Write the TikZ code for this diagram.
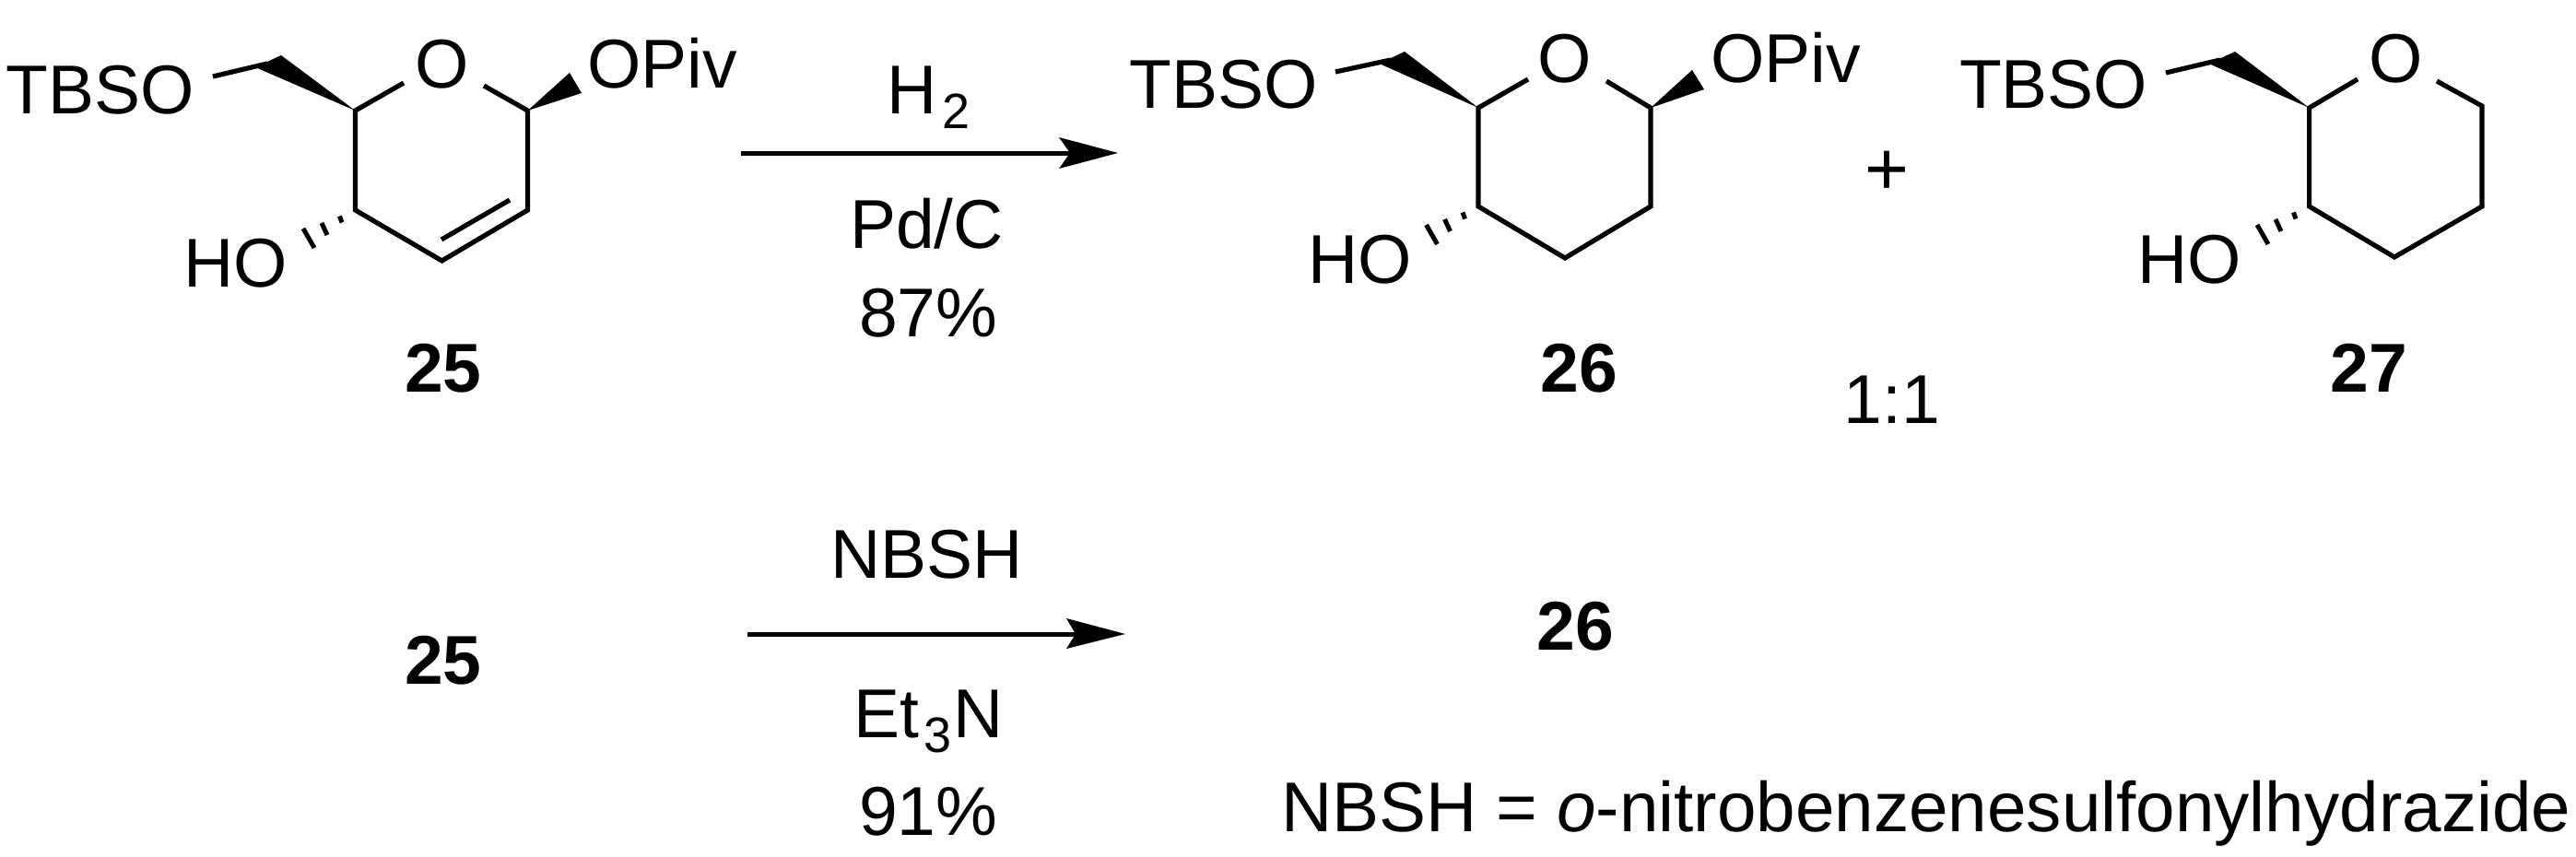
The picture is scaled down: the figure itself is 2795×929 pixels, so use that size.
\documentclass[tikz,border=0pt]{standalone}
\usepackage{fontspec}
\setmainfont{Liberation Sans}
\newcommand{\subtx}[1]{\kern6pt\raisebox{-16pt}{\fontsize{54}{60}\selectfont #1}\kern2pt}
\tikzset{
  bond/.style={line width=5.2pt,line cap=butt,line join=miter},
  hashbond/.style={line width=5pt},
  wedgebond/.style={fill=black,draw=none},
  txt/.style={inner sep=0pt,outer sep=0pt,anchor=base west,font=\fontsize{75}{90}\selectfont},
  ctr/.style={inner sep=0pt,outer sep=0pt,anchor=base,font=\fontsize{75}{90}\selectfont},
  lbl/.style={inner sep=0pt,outer sep=0pt,anchor=base,font=\fontsize{75}{90}\selectfont\bfseries},
  rxn/.style={line width=5pt},
  rxnhead/.style={fill=black,draw=none}
}
\begin{document}
\begin{tikzpicture}[x=1pt,y=-1pt]
\useasboundingbox (0,0) rectangle (2795,929);
% ---------- 25
\coordinate (a5) at (385.5,120);
\coordinate (a4) at (385.5,228);
\coordinate (a3) at (479.5,283);
\coordinate (a2) at (572.5,228);
\coordinate (a1) at (572.5,120);
\coordinate (aOl) at (438,90);
\coordinate (aOr) at (525,93);
\coordinate (aCa) at (305,60);
\coordinate (aCb) at (277,73);
\coordinate (aCm) at (290,69);
\coordinate (aT) at (231,83);
\coordinate (aPa) at (618,79);
\coordinate (aPb) at (631,101);
\coordinate (aD1) at (553,217);
\coordinate (aD2) at (479,260);
\node[txt] (aTBSO) at (6.5,123) {TBSO};
\node[ctr] (aO) at (480,95) {O};
\node[txt] (aOPiv) at (637,95) {OPiv};
\node[txt] (aHO) at (199,311) {HO};
\node[lbl] (l25) at (481,425) {25};
\draw[bond] (aOl) -- (a5) -- (a4) -- (a3) -- (a2) -- (a1) -- (aOr);
\draw[bond] (aD1) -- (aD2);
\draw[bond] (aT) -- (aCm);
\fill[wedgebond] (a5) -- (aCa) -- (aCb) -- cycle;
\fill[wedgebond] (a1) -- (aPa) -- (aPb) -- cycle;
\draw[hashbond] (368.5,234.5) -- (371,241.5) (349,242) -- (355,255) (329,248) -- (341,269);
% ---------- arrow 1
\coordinate (r1s) at (804,166);
\coordinate (r1e) at (1213,166);
\coordinate (r1a) at (1149,149);
\coordinate (r1b) at (1149,183);
\coordinate (r1n) at (1161,166);
\draw[rxn] (r1s) -- (r1n);
\fill[rxnhead] (r1e) -- (r1a) -- (r1n) -- (r1b) -- cycle;
\node[txt] (h2) at (962,123) {H\subtx{2}};
\node[txt] (pdc) at (922,269) {Pd/C};
\node[txt] (y87) at (932,365) {87\%};
% ---------- 26
\coordinate (b5) at (1604,117);
\coordinate (b4) at (1604,224);
\coordinate (b3) at (1698,280);
\coordinate (b2) at (1791,224);
\coordinate (b1) at (1791,117);
\coordinate (bOl) at (1658,86);
\coordinate (bOr) at (1743,88);
\coordinate (bCa) at (1524,56);
\coordinate (bCb) at (1496.5,69);
\coordinate (bCm) at (1509,65);
\coordinate (bT) at (1449,78);
\coordinate (bPa) at (1836,76);
\coordinate (bPb) at (1849,97);
\node[txt] (bTBSO) at (1225.5,117) {TBSO};
\node[ctr] (bO) at (1698,89) {O};
\node[txt] (bOPiv) at (1856,89) {OPiv};
\node[txt] (bHO) at (1419,307) {HO};
\node[lbl] (l26) at (1713,425) {26};
\draw[bond] (bOl) -- (b5) -- (b4) -- (b3) -- (b2) -- (b1) -- (bOr);
\draw[bond] (bT) -- (bCm);
\fill[wedgebond] (b5) -- (bCa) -- (bCb) -- cycle;
\fill[wedgebond] (b1) -- (bPa) -- (bPb) -- cycle;
\begin{scope}[shift={(1218.5,-4)}]
\draw[hashbond] (368.5,234.5) -- (371,241.5) (349,242) -- (355,255) (329,248) -- (341,269);
\end{scope}
\node[inner sep=0pt,outer sep=0pt,anchor=base,font=\fontsize{82}{90}\selectfont] (plus) at (2047,211.5) {+};
\node[ctr] (ratio) at (2053,459) {1:1};
% ---------- 27
\coordinate (c5) at (2505.6,117);
\coordinate (c4) at (2505.6,224);
\coordinate (c3) at (2598,279);
\coordinate (c2) at (2693,224);
\coordinate (c1) at (2693,115);
\coordinate (cOl) at (2558,86);
\coordinate (cOr) at (2644,88);
\coordinate (cCa) at (2425,56);
\coordinate (cCb) at (2396.5,69);
\coordinate (cCm) at (2409,65);
\coordinate (cT) at (2350,79);
\node[txt] (cTBSO) at (2126,117) {TBSO};
\node[ctr] (cO) at (2600,89) {O};
\node[txt] (cHO) at (2319,307) {HO};
\node[lbl] (l27) at (2570,425) {27};
\draw[bond] (cOl) -- (c5) -- (c4) -- (c3) -- (c2) -- (c1) -- (cOr);
\draw[bond] (cT) -- (cCm);
\fill[wedgebond] (c5) -- (cCa) -- (cCb) -- cycle;
\begin{scope}[shift={(2120,-4)}]
\draw[hashbond] (368.5,234.5) -- (371,241.5) (349,242) -- (355,255) (329,248) -- (341,269);
\end{scope}
% ---------- second reaction
\node[lbl] (l25b) at (481,742) {25};
\coordinate (r2s) at (811,688);
\coordinate (r2e) at (1221,688);
\coordinate (r2a) at (1157,671);
\coordinate (r2b) at (1157,704);
\coordinate (r2n) at (1167,688);
\draw[rxn] (r2s) -- (r2n);
\fill[rxnhead] (r2e) -- (r2a) -- (r2n) -- (r2b) -- cycle;
\node[txt] (nbsh) at (901,627) {NBSH};
\node[txt] (et3n) at (926,800) {Et\subtx{3}N};
\node[txt] (y91) at (932,906) {91\%};
\node[lbl] (l26b) at (1709,705) {26};
\node[inner sep=0pt,outer sep=0pt,anchor=base west,font=\fontsize{76.4}{90}\selectfont] (def) at (1390,902) {NBSH = \textit{o}-nitrobenzenesulfonylhydrazide};
\end{tikzpicture}
\end{document}
